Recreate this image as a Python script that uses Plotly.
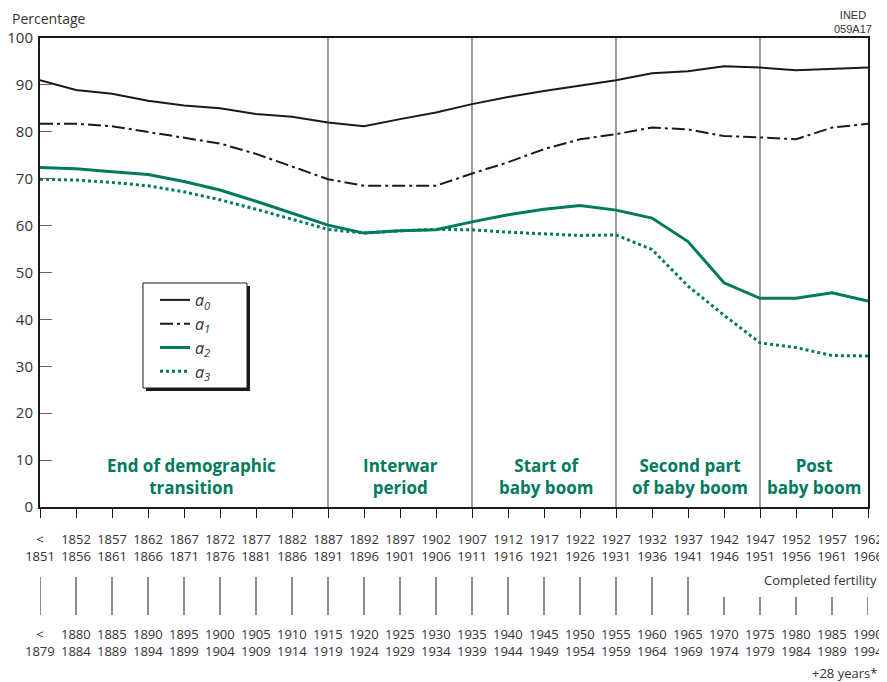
import plotly.graph_objects as go

# cohort groups (completed fertility) and the same groups +28 years
cohorts = ["<<br>1851"] + [f"{y}<br>{y + 4}" for y in range(1852, 1963, 5)]
cohorts_28 = ["<<br>1879"] + [f"{y}<br>{y + 4}" for y in range(1880, 1991, 5)]

a0 = [91.0, 88.9, 88.1, 86.6, 85.6, 85.0, 83.8, 83.2, 82.0, 81.2, 82.7, 84.1,
      85.9, 87.4, 88.7, 89.9, 91.0, 92.5, 92.9, 94.0, 93.7, 93.1, 93.4, 93.7]
a1 = [81.7, 81.7, 81.2, 80.0, 78.8, 77.5, 75.3, 72.6, 69.9, 68.5, 68.5, 68.5,
      71.1, 73.5, 76.3, 78.4, 79.5, 80.9, 80.5, 79.1, 78.8, 78.4, 80.9, 81.7]
a2 = [72.4, 72.1, 71.5, 70.9, 69.4, 67.6, 65.2, 62.6, 60.1, 58.4, 58.9, 59.1,
      60.8, 62.3, 63.5, 64.3, 63.3, 61.6, 56.6, 47.8, 44.5, 44.5, 45.7, 43.9]
a3 = [69.9, 69.7, 69.2, 68.5, 67.2, 65.5, 63.5, 61.3, 59.2, 58.4, 58.9, 59.2,
      59.1, 58.6, 58.2, 57.9, 58.0, 54.9, 47.1, 40.9, 35.0, 34.0, 32.3, 32.2]

period_bounds = [8, 12, 16, 20]
period_labels = ["End of demographic<br>transition", "Interwar<br>period",
                 "Start of<br>baby boom", "Second part<br>of baby boom",
                 "Post<br>baby boom"]
period_pos = [4.2, 10, 14.05, 18.05, 21.5]

GREEN = "#007A5E"
BLACK = "#1a1a1a"
GREY = "#333333"
x = list(range(len(cohorts)))

fig = go.Figure()
fig.add_trace(go.Scatter(x=x, y=a0, mode="lines", name="<i>a<sub>0</sub></i>",
                         line=dict(color=BLACK, width=2)))
fig.add_trace(go.Scatter(x=x, y=a1, mode="lines", name="<i>a<sub>1</sub></i>",
                         line=dict(color=BLACK, width=2, dash="13px,4px,3px,4px")))
fig.add_trace(go.Scatter(x=x, y=a2, mode="lines", name="<i>a<sub>2</sub></i>",
                         line=dict(color=GREEN, width=3)))
fig.add_trace(go.Scatter(x=x, y=a3, mode="lines", name="<i>a<sub>3</sub></i>",
                         line=dict(color=GREEN, width=3, dash="3px,3px")))

# pixel position on the page -> paper coordinates of the plot area (40..868, 38..507)
px = lambda v: (v - 40) / 828
py = lambda v: (507 - v) / 469

shapes = []
for b in period_bounds:
    shapes.append(dict(type="line", xref="x", yref="paper", x0=b, x1=b, y0=0, y1=1,
                       line=dict(color="#666666", width=1.3), layer="below"))
# tick marks between the two label rows
for i in x:
    top = py(597) if i >= 19 else py(577)
    shapes.append(dict(type="line", xref="x", yref="paper", x0=i, x1=i,
                       y0=py(615), y1=top, line=dict(color=BLACK, width=1)))
# legend box with shadow
shapes.append(dict(type="rect", xref="paper", yref="paper", x0=px(146), x1=px(250),
                   y0=py(391), y1=py(286), fillcolor=BLACK, line=dict(width=0)))
shapes.append(dict(type="rect", xref="paper", yref="paper", x0=px(143), x1=px(247),
                   y0=py(388), y1=py(283), fillcolor="white",
                   line=dict(color=BLACK, width=1)))

annotations = []
for lab, pos in zip(period_labels, period_pos):
    annotations.append(dict(x=pos, y=py(476), xref="x", yref="paper", text=f"<b>{lab}</b>",
                            showarrow=False, font=dict(size=17, color=GREEN),
                            align="center", yanchor="middle"))
for i, lab in zip(x, cohorts_28):
    annotations.append(dict(x=i, y=py(642), xref="x", yref="paper", text=lab,
                            showarrow=False, font=dict(size=13, color=GREY),
                            align="center", yanchor="middle"))
annotations += [
    dict(x=px(10), y=py(18), xref="paper", yref="paper", text="Percentage",
         showarrow=False, xanchor="left", yanchor="middle",
         font=dict(size=14, color=GREY)),
    dict(x=px(879), y=py(580), xref="paper", yref="paper", text="Completed fertility",
         showarrow=False, xanchor="right", yanchor="middle",
         font=dict(size=13, color=GREY)),
    dict(x=px(879), y=py(673), xref="paper", yref="paper", text="+28 years*",
         showarrow=False, xanchor="right", yanchor="middle",
         font=dict(size=13, color=GREY)),
    dict(x=px(853), y=py(22), xref="paper", yref="paper", text="INED<br>059A17",
         showarrow=False, xanchor="center", yanchor="middle",
         font=dict(size=11, color=GREY, family="Liberation Sans Narrow, Liberation Sans")),
]

# the page body has an 8px margin, so the figure is 8px smaller than the window
fig.update_layout(
    width=879, height=674,
    margin=dict(l=32, r=19, t=30, b=175),
    paper_bgcolor="white", plot_bgcolor="white",
    font=dict(family="Open Sans, Noto Sans, sans-serif", color=GREY),
    showlegend=True,
    legend=dict(x=px(155), y=py(283), xanchor="left", yanchor="top",
                bgcolor="rgba(0,0,0,0)", borderwidth=0,
                font=dict(size=16, color=GREY)),
    shapes=shapes, annotations=annotations,
)
fig.update_xaxes(range=[0, 23], tickvals=x, ticktext=cohorts, showgrid=False,
                 zeroline=False, showline=True, linecolor=BLACK, linewidth=2,
                 mirror=True, ticks="outside", ticklen=9, tickcolor=BLACK,
                 tickwidth=1, tickfont=dict(size=13, color=GREY), tickangle=0,
                 ticklabelstandoff=10, automargin=False)
fig.update_yaxes(range=[0, 100], tickvals=list(range(0, 101, 10)), showgrid=False,
                 zeroline=False, showline=True, linecolor=BLACK, linewidth=2,
                 mirror=True, ticks="inside", ticklen=12, tickcolor="#666666",
                 tickwidth=1, tickfont=dict(size=15, color=GREY),
                 ticklabelstandoff=2, automargin=False)

fig.write_html("out.html")
